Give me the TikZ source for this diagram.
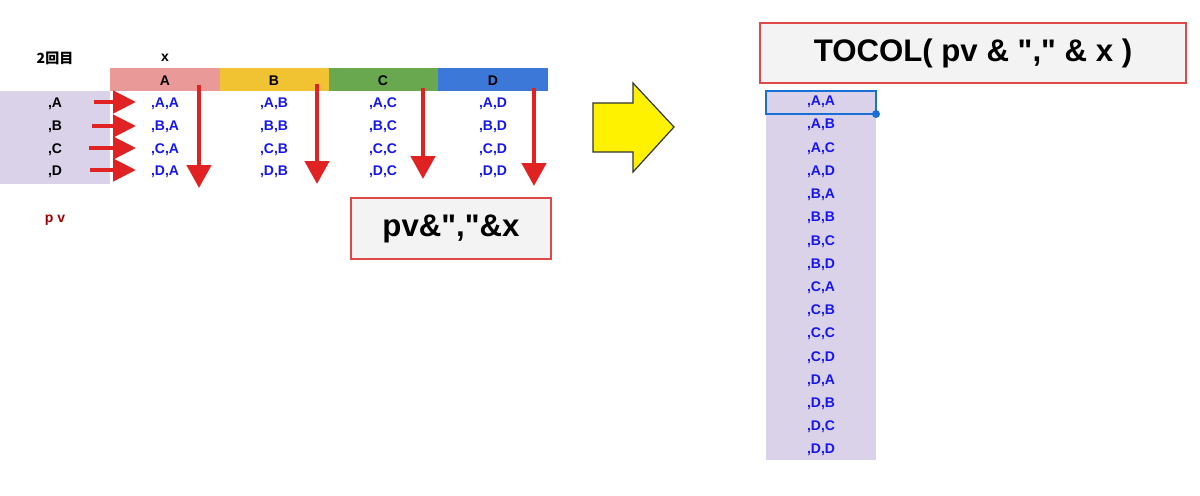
\documentclass[tikz,border=0pt]{standalone}
\usepackage{fontspec}
\setmainfont{Liberation Sans}[Ligatures=TeXOff]
\newfontfamily\cjkfont{Noto Sans CJK JP}
\usetikzlibrary{arrows.meta}
\definecolor{cellblue}{HTML}{1515F0}
\definecolor{hpink}{HTML}{EA9999}
\definecolor{hyellow}{HTML}{F1C232}
\definecolor{hgreen}{HTML}{6AA84F}
\definecolor{hblue}{HTML}{3C78D8}
\definecolor{lav}{HTML}{D9D2E9}
\definecolor{arrred}{HTML}{E02222}
\definecolor{pvred}{HTML}{A00000}
\definecolor{boxgray}{HTML}{F3F3F3}
\definecolor{boxred}{HTML}{E04848}
\definecolor{selblue}{HTML}{1A6FD6}
\tikzset{
  small/.style={font=\fontsize{7}{8}\selectfont\bfseries, inner sep=0pt},
  cell/.style={small, text=cellblue},
  hdr/.style={small, text=black},
  formula/.style={draw=boxred, line width=0.6pt, fill=boxgray, font=\fontsize{15.6}{18}\selectfont\bfseries, inner sep=0pt},
  redarrow/.style={draw=arrred, line width=2.3pt, -{Triangle[length=11.5pt,width=11pt]}},
  redvarrow/.style={draw=arrred, line width=2.3pt, -{Triangle[length=11.5pt,width=12pt]}},
}
\begin{document}
\begin{tikzpicture}[x=0.5pt,y=-0.5pt]
\useasboundingbox (0,0) rectangle (1200,495);
% header labels
\node[small] (lbl2) at (55,58) {\cjkfont\bfseries 2回目};
\node[small] (lblx) at (165,58) {x};
% header row
\fill[hpink] (110,68) rectangle (220,91);
\fill[hyellow] (220,68) rectangle (329,91);
\fill[hgreen] (329,68) rectangle (438,91);
\fill[hblue] (438,68) rectangle (548,91);
\node[hdr] (hA) at (165,81) {A};
\node[hdr] (hB) at (274,81) {B};
\node[hdr] (hC) at (383,81) {C};
\node[hdr] (hD) at (493,81) {D};
% left lavender column
\fill[lav] (0,91) rectangle (110,184);
\foreach \r/\y in {A/104,B/127,C/150,D/172}{
  \node[hdr] (p\r) at (55,\y) {,\r};
}
% cells
\foreach \r/\y in {A/104,B/127,C/150,D/172}{
  \foreach \c/\x in {A/165,B/274,C/383,D/493}{
    \node[cell] (c\r\c) at (\x,\y) {,\r,\c};
  }
}
% horizontal red arrows
\coordinate (hsA) at (94,102); \coordinate (heA) at (136,102);
\coordinate (hsB) at (92,126); \coordinate (heB) at (136,126);
\coordinate (hsC) at (89,148); \coordinate (heC) at (136,148);
\coordinate (hsD) at (90,170); \coordinate (heD) at (136,170);
\foreach \r in {A,B,C,D}{ \draw[redarrow] (hs\r) -- (he\r); }
% vertical red arrows
\coordinate (vsA) at (199,85); \coordinate (veA) at (199,188);
\coordinate (vsB) at (317,84); \coordinate (veB) at (317,184);
\coordinate (vsC) at (423,88); \coordinate (veC) at (423,179);
\coordinate (vsD) at (534,88); \coordinate (veD) at (534,186);
\foreach \c in {A,B,C,D}{ \draw[redvarrow] (vs\c) -- (ve\c); }
% pv label
\node[small, text=pvred] (pv) at (55,220) {p v};
% formula box
\node[formula, minimum width=100pt, minimum height=30.5pt] (f1) at (451,228.5) {pv\&","\&x};
% yellow block arrow
\filldraw[fill=yellow, draw=black!80, line width=0.6pt]
  (593,103) -- (633,103) -- (633,83) -- (674,127) -- (633,172) -- (633,152) -- (593,152) -- cycle;
% TOCOL box
\node[formula, minimum width=213pt, minimum height=30pt] (f2) at (973,53) {TOCOL( pv \& "," \& x )};
% result column
\fill[lav] (766,91) rectangle (876,460);
\foreach \i/\t in {0/{,A,A},1/{,A,B},2/{,A,C},3/{,A,D},4/{,B,A},5/{,B,B},6/{,B,C},7/{,B,D},8/{,C,A},9/{,C,B},10/{,C,C},11/{,C,D},12/{,D,A},13/{,D,B},14/{,D,C},15/{,D,D}}{
  \node[cell] (r\i) at (821,{102+23.2*\i}) {\t};
}
\draw[selblue, line width=0.8pt] (766,91) rectangle (876,114);
\fill[selblue] (876,114) circle (4);
\end{tikzpicture}
\end{document}
